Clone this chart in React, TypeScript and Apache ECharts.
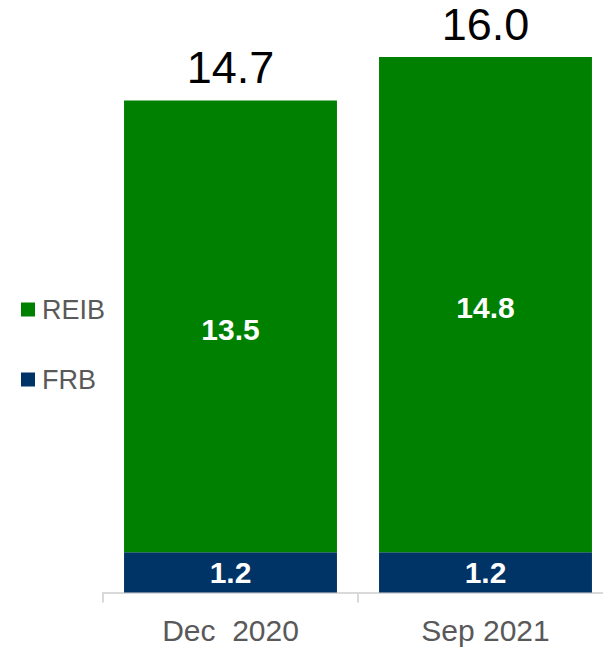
import React, { useEffect, useRef } from "react";
import * as echarts from "echarts";

const categories = ["Dec  2020", "Sep 2021"];
const frbValues = [1.2, 1.2];
const reibValues = [13.5, 14.8];
const totalValues = [14.7, 16.0];

const FONT = "'Liberation Sans', Arial, sans-serif";

export default function App() {
  const ref = useRef<HTMLDivElement>(null);
  useEffect(() => {
    if (!ref.current) return;
    const chart = echarts.init(ref.current, null, { renderer: "svg" });
    chart.setOption({
      animation: false,
      textStyle: { fontFamily: FONT },
      legend: {
        data: ["REIB", "FRB"],
        orient: "vertical",
        left: 16,
        top: 291,
        icon: "rect",
        itemWidth: 14,
        itemHeight: 14,
        itemGap: 43,
        textStyle: { fontSize: 27, color: "#595959", fontFamily: FONT, padding: [0, 0, 0, 2] },
      },
      grid: { left: 103, right: 7, top: 0, bottom: 58.5 },
      xAxis: {
        type: "category",
        data: categories,
        axisLine: { show: true, lineStyle: { color: "#d9d9d9", width: 2 } },
        axisTick: { show: true, length: 10, lineStyle: { color: "#d9d9d9", width: 2 } },
        axisLabel: { fontSize: 30, color: "#595959", margin: 23, fontFamily: FONT },
      },
      yAxis: {
        type: "value",
        min: 0,
        max: 17.7,
        show: false,
        splitLine: { show: false },
      },
      series: [
        {
          name: "FRB",
          type: "bar",
          stack: "a",
          data: frbValues,
          barCategoryGap: "16.5%",
          itemStyle: { color: "#003366" },
          label: {
            show: true,
            position: "inside",
            color: "#ffffff",
            fontWeight: "bold",
            fontSize: 30,
            fontFamily: FONT,
            formatter: (p: any) => p.value.toFixed(1),
          },
        },
        {
          name: "REIB",
          type: "bar",
          stack: "a",
          data: reibValues,
          itemStyle: { color: "#008000" },
          label: {
            show: true,
            position: "inside",
            offset: [0, 3],
            color: "#ffffff",
            fontWeight: "bold",
            fontSize: 30,
            fontFamily: FONT,
            formatter: (p: any) => p.value.toFixed(1),
          },
        },
        {
          name: "Total",
          type: "bar",
          stack: "a",
          data: totalValues.map(() => 0),
          itemStyle: { color: "transparent" },
          label: {
            show: true,
            position: "top",
            distance: 10,
            color: "#000000",
            fontSize: 45,
            fontFamily: FONT,
            formatter: (p: any) => totalValues[p.dataIndex].toFixed(1),
          },
        },
      ],
    });
    return () => chart.dispose();
  }, []);
  return (
    <div style={{ width: 603, height: 651, position: "absolute", left: 0, top: 0, overflow: "hidden" }}>
      <div ref={ref} style={{ width: 620, height: 651 }} />
    </div>
  );
}
